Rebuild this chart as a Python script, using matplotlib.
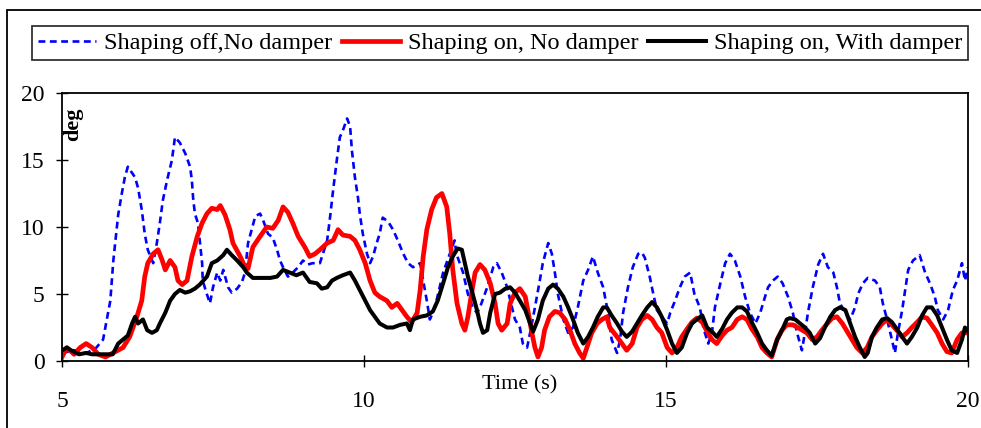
import matplotlib
matplotlib.use("Agg")
import matplotlib.pyplot as plt
from matplotlib.patches import Rectangle

# ---------------- data ----------------
off_t = [5.0, 5.2, 5.4, 5.55, 5.68, 5.8, 5.85, 5.93, 5.99, 6.04, 6.09, 6.21, 6.26, 6.32, 6.37,
         6.42, 6.51, 6.57, 6.62, 6.67, 6.74, 6.82, 6.87, 6.95, 7.04, 7.12, 7.15, 7.17, 7.2, 7.25,
         7.28, 7.32, 7.33, 7.39, 7.45, 7.5, 7.57, 7.62, 7.67, 7.75, 7.81, 7.9, 7.98, 8.03, 8.08,
         8.14, 8.2, 8.28, 8.33, 8.41, 8.49, 8.56, 8.61, 8.66, 8.74, 8.82, 8.91, 8.99, 9.07, 9.15,
         9.27, 9.32, 9.39, 9.44, 9.49, 9.55, 9.6, 9.65, 9.72, 9.77, 9.8, 9.85, 9.9, 9.93, 9.98,
         10.05, 10.1, 10.15, 10.21, 10.26, 10.31, 10.4, 10.48, 10.56, 10.65, 10.73, 10.81, 10.93,
         10.98, 11.04, 11.09, 11.14, 11.2, 11.31, 11.42, 11.5, 11.53, 11.64, 11.72, 11.8, 11.87,
         11.92, 12.04, 12.14, 12.2, 12.28, 12.37, 12.45, 12.5, 12.58, 12.63, 12.7, 12.75, 12.83,
         12.91, 12.96, 13.05, 13.11, 13.16, 13.21, 13.3, 13.38, 13.46, 13.54, 13.63, 13.71, 13.79,
         13.87, 13.96, 14.04, 14.1, 14.19, 14.24, 14.29, 14.37, 14.45, 14.54, 14.6, 14.65, 14.73,
         14.79, 14.85, 14.93, 15.02, 15.07, 15.15, 15.23, 15.31, 15.4, 15.47, 15.56, 15.63, 15.7,
         15.76, 15.81, 15.9, 15.98, 16.06, 16.14, 16.23, 16.31, 16.39, 16.48, 16.56, 16.64, 16.69,
         16.77, 16.85, 16.93, 17.02, 17.1, 17.17, 17.25, 17.3, 17.35, 17.43, 17.52, 17.6, 17.68,
         17.77, 17.83, 17.88, 17.97, 18.05, 18.13, 18.18, 18.26, 18.34, 18.46, 18.54, 18.59, 18.66,
         18.74, 18.79, 18.84, 18.91, 18.96, 19.01, 19.09, 19.2, 19.29, 19.37, 19.45, 19.5, 19.59,
         19.67, 19.75, 19.82, 19.9, 19.95, 20.0]
off_v = [0.6, 0.8, 0.6, 0.9, 1.6, 4.5, 7.5, 10.9, 12.5, 13.7, 14.5, 13.7, 12.9, 11.3, 9.5,
         8.3, 7.3, 8.8, 10.3, 12.0, 13.5, 15.0, 16.7, 16.3, 15.5, 14.5, 13.5, 12.2, 11.0, 10.3,
         9.0, 7.3, 6.0, 5.1, 4.3, 5.5, 6.6, 6.0, 6.8, 5.5, 5.1, 5.4, 5.9, 6.6, 8.8,
         9.8, 10.8, 11.0, 10.5, 9.5, 9.2, 8.3, 7.5, 7.0, 6.3, 6.6, 7.0, 7.5, 7.2, 7.3,
         7.3, 8.0, 9.0, 10.8, 12.8, 15.0, 16.7, 17.2, 18.1, 17.5, 15.7, 13.7, 12.2, 11.0, 9.5,
         8.0, 7.3, 7.8, 8.8, 9.5, 10.7, 10.4, 9.8, 9.0, 8.0, 7.3, 7.0, 7.3,
         6.0, 4.5, 3.1, 3.6, 4.5, 6.6, 8.0, 9.0, 8.0, 6.6, 5.0, 4.0, 3.6,
         4.0, 5.5, 7.0, 7.3, 6.6, 5.5, 4.0, 3.1, 2.5, 1.3, 1.0, 2.1, 4.0,
         6.0, 7.3, 8.8, 8.0, 6.6, 5.0, 3.1, 2.1, 2.5, 4.0, 6.0, 6.8, 7.8,
         6.6, 5.5, 3.6, 1.6, 0.6, 1.6, 3.6, 5.5, 7.0, 8.0, 8.1, 7.7, 6.3,
         5.0, 3.8, 3.3, 2.8, 3.6, 4.5, 5.5, 6.3, 6.6, 5.0, 4.0, 2.3, 1.3,
         2.1, 4.0, 5.8, 7.3, 8.0, 7.5, 6.3, 4.8, 3.6, 2.8, 3.6, 4.8, 5.5,
         6.0, 6.3, 5.8, 4.8, 3.6, 2.1, 0.8, 2.1, 3.6, 5.5, 7.2, 8.0, 7.0,
         6.6, 5.5, 4.3, 3.6, 3.1, 4.0, 5.0, 5.8, 6.2, 6.0, 5.5, 4.3, 3.1,
         1.6, 0.6, 2.1, 3.8, 5.3, 6.8, 7.5, 7.9, 6.6, 5.8, 4.8, 3.8, 3.1,
         3.8, 5.3, 6.0, 7.3, 6.0, 7.0]

on_t = [5.0, 5.08, 5.2, 5.3, 5.4, 5.5, 5.6, 5.72, 6.01, 6.12, 6.24, 6.32, 6.37, 6.42, 6.51,
        6.59, 6.66, 6.71, 6.79, 6.87, 6.92, 6.99, 7.07, 7.15, 7.24, 7.32, 7.4, 7.48, 7.57, 7.62,
        7.7, 7.78, 7.83, 7.95, 8.03, 8.08, 8.16, 8.28, 8.39, 8.49, 8.58, 8.66, 8.74, 8.82, 8.91,
        9.02, 9.1, 9.19, 9.27, 9.39, 9.49, 9.57, 9.65, 9.77, 9.85, 9.93, 10.02, 10.1, 10.18,
        10.26, 10.38, 10.46, 10.55, 10.63, 10.71, 10.79, 10.88, 10.93, 10.98, 11.04, 11.12, 11.2,
        11.29, 11.37, 11.42, 11.47, 11.54, 11.62, 11.67, 11.72, 11.79, 11.84, 11.92, 12.0, 12.09,
        12.17, 12.22, 12.28, 12.37, 12.42, 12.5, 12.58, 12.67, 12.72, 12.78, 12.83, 12.88, 12.94,
        12.99, 13.07, 13.16, 13.24, 13.33, 13.41, 13.49, 13.57, 13.63, 13.69, 13.77, 13.86, 13.94,
        14.02, 14.07, 14.19, 14.27, 14.35, 14.44, 14.52, 14.6, 14.69, 14.77, 14.85, 14.93, 15.02,
        15.1, 15.18, 15.26, 15.35, 15.43, 15.51, 15.6, 15.68, 15.76, 15.84, 15.93, 16.01, 16.09,
        16.18, 16.26, 16.34, 16.42, 16.51, 16.59, 16.67, 16.75, 16.84, 16.92, 17.0, 17.1, 17.22,
        17.33, 17.42, 17.5, 17.58, 17.67, 17.75, 17.83, 17.92, 18.0, 18.08, 18.16, 18.25, 18.33,
        18.41, 18.49, 18.58, 18.66, 18.74, 18.82, 18.91, 18.99, 19.07, 19.16, 19.24, 19.32, 19.4,
        19.49, 19.57, 19.65, 19.73, 19.82, 19.9, 20.0]
on_v = [0.3, 1.0, 0.5, 1.0, 1.3, 1.0, 0.5, 0.3, 1.0, 1.8, 3.3, 4.5, 6.3, 7.3, 8.0,
        8.3, 7.5, 6.8, 7.5, 7.0, 6.0, 5.7, 6.0, 7.8, 9.3, 10.3, 11.0, 11.4, 11.3, 11.6,
        10.9, 9.8, 8.8, 7.8, 7.0, 6.9, 8.5, 9.3, 10.0, 9.9, 10.5, 11.5, 11.1, 10.3, 9.3,
        8.5, 7.8, 8.0, 8.3, 8.8, 9.0, 9.8, 9.4, 9.3, 9.0, 8.3, 7.3, 6.0, 5.1,
        4.8, 4.5, 4.0, 4.3, 3.8, 3.3, 2.9, 3.6, 5.3, 7.8, 9.8, 11.3, 12.2,
        12.5, 11.5, 9.5, 6.8, 4.3, 2.8, 2.3, 3.3, 5.3, 6.6, 7.2, 6.8, 5.8,
        4.3, 2.8, 2.3, 2.8, 4.3, 5.1, 5.4, 4.8, 3.6, 2.1, 1.0, 0.3, 1.0,
        2.3, 3.3, 3.7, 3.6, 3.1, 2.3, 1.3, 0.6, 0.2, 1.0, 2.1, 2.8, 3.1,
        3.3, 2.5, 1.8, 1.3, 0.8, 1.3, 2.5, 3.1, 3.4, 3.1, 2.5, 2.1, 1.0,
        0.6, 1.0, 1.8, 2.4, 2.9, 3.2, 2.9, 2.2, 1.6, 1.3, 1.9, 2.3, 2.5,
        3.1, 3.3, 3.1, 2.4, 1.8, 1.0, 0.6, 0.3, 1.6, 2.3, 2.7, 2.7, 2.4,
        2.1, 1.6, 1.8, 2.3, 2.8, 3.2, 3.3, 2.8, 2.2, 1.6, 1.0, 0.6, 1.0,
        1.8, 2.3, 2.8, 3.1, 2.7, 2.3, 1.8, 2.1, 2.5, 2.9, 3.3, 3.2, 2.7,
        2.1, 1.3, 0.7, 0.6, 1.6, 2.1, 2.1]

damp_t = [5.0, 5.08, 5.15, 5.28, 5.4, 5.5, 5.67, 5.84, 5.93, 6.01, 6.09, 6.16, 6.21, 6.26, 6.34,
          6.41, 6.49, 6.57, 6.62, 6.71, 6.79, 6.87, 6.95, 7.04, 7.12, 7.2, 7.28, 7.4, 7.48, 7.57,
          7.67, 7.73, 7.81, 7.9, 8.0, 8.06, 8.16, 8.28, 8.45, 8.56, 8.66, 8.77, 8.88, 8.99, 9.1,
          9.22, 9.3, 9.39, 9.47, 9.55, 9.65, 9.77, 9.85, 9.93, 10.02, 10.1, 10.18, 10.26, 10.38,
          10.48, 10.6, 10.71, 10.76, 10.81, 10.93, 11.04, 11.14, 11.22, 11.31, 11.39, 11.47, 11.55,
          11.62, 11.67, 11.72, 11.8, 11.87, 11.92, 11.97, 12.04, 12.09, 12.17, 12.25, 12.34, 12.42,
          12.5, 12.58, 12.67, 12.75, 12.8, 12.88, 12.96, 13.05, 13.13, 13.21, 13.3, 13.38, 13.46,
          13.54, 13.63, 13.71, 13.79, 13.87, 13.96, 14.02, 14.1, 14.19, 14.27, 14.35, 14.44, 14.52,
          14.6, 14.69, 14.77, 14.85, 14.93, 15.02, 15.1, 15.18, 15.26, 15.35, 15.43, 15.51, 15.6,
          15.68, 15.76, 15.84, 15.93, 16.01, 16.09, 16.18, 16.26, 16.34, 16.42, 16.51, 16.59, 16.67,
          16.75, 16.84, 16.92, 17.0, 17.05, 17.14, 17.22, 17.3, 17.38, 17.47, 17.55, 17.63, 17.72,
          17.8, 17.88, 17.97, 18.05, 18.13, 18.21, 18.29, 18.34, 18.41, 18.49, 18.58, 18.66, 18.74,
          18.82, 18.91, 18.99, 19.07, 19.16, 19.24, 19.32, 19.4, 19.49, 19.57, 19.65, 19.73, 19.82,
          19.9, 19.95, 20.0]
damp_v = [0.8, 1.0, 0.8, 0.5, 0.6, 0.5, 0.5, 0.5, 1.3, 1.6, 1.9, 2.8, 3.3, 2.8, 3.1,
          2.3, 2.1, 2.3, 2.8, 3.6, 4.5, 5.0, 5.3, 5.1, 5.2, 5.4, 5.7, 6.3, 7.3, 7.5,
          7.9, 8.3, 7.9, 7.5, 7.0, 6.6, 6.2, 6.2, 6.2, 6.3, 6.8, 6.6, 6.4, 6.6, 5.9,
          5.8, 5.4, 5.5, 6.0, 6.2, 6.4, 6.6, 6.0, 5.3, 4.5, 3.8, 3.3, 2.8, 2.5,
          2.5, 2.7, 2.8, 2.3, 3.1, 3.3, 3.4, 3.7, 4.5, 5.8, 7.0, 7.8, 8.4,
          8.3, 7.3, 6.3, 5.0, 3.8, 2.8, 2.1, 2.3, 3.6, 5.0, 5.1, 5.4, 5.5,
          5.1, 4.5, 3.8, 2.8, 2.2, 3.1, 4.5, 5.4, 5.7, 5.4, 4.8, 4.0, 3.1,
          2.1, 1.3, 1.8, 2.5, 3.3, 4.0, 4.0, 3.4, 2.8, 2.2, 1.8, 2.2, 2.8,
          3.4, 4.0, 4.4, 4.0, 3.3, 2.3, 1.3, 0.6, 1.0, 2.1, 2.8, 3.1, 3.4,
          2.5, 2.2, 1.8, 2.4, 3.1, 3.6, 4.0, 4.0, 3.7, 2.9, 2.1, 1.3, 0.8,
          0.4, 1.6, 2.3, 3.1, 3.2, 3.1, 2.8, 2.5, 2.1, 1.3, 1.7, 2.5, 3.3,
          3.8, 4.0, 3.8, 2.8, 1.8, 1.0, 0.3, 0.6, 1.8, 2.5, 3.1, 3.2, 2.9,
          2.4, 1.8, 1.3, 1.8, 2.5, 3.4, 4.0, 4.0, 3.4, 2.5, 1.6, 0.8, 0.6,
          1.6, 2.5, 2.2]

series_labels = ["Shaping off,No damper", "Shaping on, No damper", "Shaping on, With damper"]
x_ticks = [5, 10, 15, 20]
y_ticks = [0, 5, 10, 15, 20]

# ---------------- figure ----------------
W, H = 981, 428
fig = plt.figure(figsize=(W / 100, H / 100), dpi=100)
serif = ["Liberation Serif", "DejaVu Serif"]
plt.rcParams["font.family"] = serif

# outer frame (cropped on right / bottom in the reference)
fig.patches.append(Rectangle((7 / W, -0.05), 1.05, 1 - 10 / H + 0.05,
                             transform=fig.transFigure, fill=False,
                             edgecolor="black", linewidth=1.3, zorder=0))

ax = fig.add_axes([62 / W, 1 - 361 / H, (968 - 62) / W, (361 - 93) / H])

l1, = ax.plot(off_t, off_v, color="#0000FF", lw=1.9, linestyle=(0, (2.6, 1.7)),
              label=series_labels[0])
l2, = ax.plot(on_t, on_v, color="#FF0000", lw=3.4, label=series_labels[1])
l3, = ax.plot(damp_t, damp_v, color="black", lw=2.9, label=series_labels[2])

ax.set_xlim(5, 20)
ax.set_ylim(0, 20)
ax.set_xticks(x_ticks)
ax.set_yticks(y_ticks)
ax.tick_params(axis="both", direction="inout", length=9, width=1, labelsize=17)
ax.tick_params(axis="y", pad=8)
ax.tick_params(axis="x", pad=17)
for s in ax.spines.values():
    s.set_linewidth(1.3)

ax.text(0.012, 0.885, "deg", transform=ax.transAxes, rotation=90, fontsize=16,
        fontweight="bold", ha="center", va="center")
ax.text(12.58, -0.09, "Time (s)", transform=ax.get_xaxis_transform(), fontsize=16,
        ha="center", va="center", clip_on=False)

leg = fig.legend(handles=[l1, l2, l3], labels=series_labels, ncol=3,
                 loc="center", bbox_to_anchor=(32 / W, 1 - 63 / H, (968 - 32) / W, 40 / H),
                 mode="expand", fontsize=17.5, frameon=True, fancybox=False,
                 edgecolor="black", handlelength=2.4, handletextpad=0.3,
                 columnspacing=0.3, borderpad=0.25, borderaxespad=0)
leg.get_frame().set_linewidth(1.3)

fig.savefig("out.png", dpi=100)
